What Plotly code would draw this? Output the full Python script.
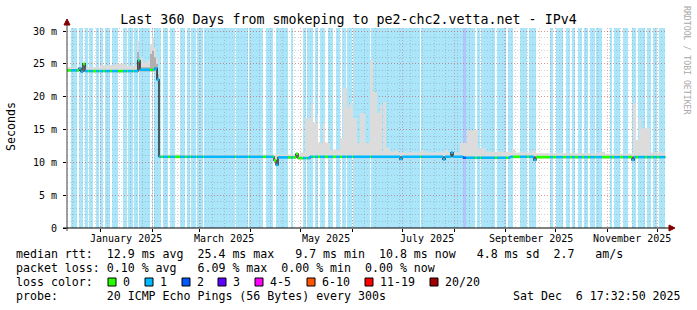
import pandas as pd
import plotly.graph_objects as go

MONO = "DejaVu Sans Mono"

T_START = pd.Timestamp("2024-12-11 17:32:50")
T_END = pd.Timestamp("2025-12-06 17:32:50")
DATA_END = 359.0  # days after start where data stops

# median rtt (step data): days since start, milliseconds
MEDIAN_DAY = [0.0, 7.2, 8.4, 9.6, 10.8, 42.6, 43.8, 52.8, 54.0, 55.2, 124.2, 125.4, 126.6,
              137.4, 138.6, 145.8, 199.8, 201.0, 225.6, 226.8, 230.4, 231.6, 237.6, 265.8,
              280.2, 281.4, 339.0, 340.2]
MEDIAN_MS = [24.0, 24.3, 23.8, 25.0, 23.9, 25.5, 24.1, 24.3, 22.6, 10.85, 10.3, 9.6, 10.75,
             11.3, 10.65, 10.85, 10.5, 10.85, 10.45, 10.85, 11.5, 10.85, 10.7, 10.85,
             10.35, 10.8, 10.35, 10.8]

# smoke upper envelope (step data)
SMOKE_DAY = [0.0, 19.8, 28.8, 34.8, 42.0, 43.2, 44.4, 45.6, 48.0, 49.8, 51.0, 52.2, 53.4, 54.6,
             55.2, 139.8, 142.8, 146.4, 147.6, 150.0, 150.6, 153.6, 154.8, 157.8, 163.8, 165.6,
             168.0, 169.8, 171.6, 174.0, 175.8, 178.8, 181.8, 183.6, 186.0, 187.8, 189.0, 189.6,
             191.4, 193.8, 196.8, 198.6, 211.8, 214.8, 226.8, 228.6, 235.8, 240.0, 246.6, 251.4,
             267.0, 268.8, 279.0, 281.4, 319.8, 322.8, 339.6, 341.4, 343.2, 344.4, 349.8]
SMOKE_HI_MS = [24.5, 24.8, 25.0, 24.7, 28.5, 25.5, 26.0, 25.2, 25.6, 28.0, 29.0, 27.5, 26.0, 23.8,
               11.2, 11.5, 16.7, 19.0, 16.0, 17.2, 13.0, 16.0, 13.0, 11.9, 13.7, 21.3,
               18.3, 19.0, 16.7, 13.0, 17.5, 13.0, 25.6, 20.7, 17.5, 18.7, 11.6, 19.2,
               12.2, 11.6, 11.9, 11.5, 11.8, 11.5, 11.9, 11.5, 13.0, 14.9, 12.1, 11.6,
               12.0, 11.5, 11.8, 11.4, 11.6, 11.3, 19.0, 13.4, 16.7, 15.2, 11.5]

# denser smoke core during the high-latency period
CORE_DAY = [42.0, 43.2, 49.8, 51.0, 52.2, 53.4, 54.6]
CORE_MS = [26.8, 24.5, 26.5, 27.0, 26.0, 25.0, 23.4]
CORE_END = 55.2

# periods with 1/20 packet loss (days since start)
LOSS1_BANDS = [(2.4, 6.0), (7.2, 9.6), (10.8, 12.6), (13.2, 15.6), (17.4, 19.2), (19.8, 21.6),
               (22.8, 25.8), (27.0, 30.6), (33.6, 36.0), (36.6, 39.6), (40.2, 42.6), (43.2, 49.8),
               (51.0, 51.6), (52.2, 56.4), (57.6, 60.6), (61.8, 64.8), (67.8, 70.8), (72.0, 73.8),
               (74.4, 77.4), (78.0, 81.6), (82.2, 100.8), (101.4, 108.6), (109.2, 117.6),
               (119.4, 123.6), (125.4, 132.6), (134.4, 135.6), (141.6, 143.4), (144.0, 147.6),
               (148.8, 150.6), (151.8, 154.8), (156.6, 159.6), (161.4, 163.8), (165.0, 167.4),
               (168.0, 171.0), (171.6, 181.8), (182.4, 211.8), (212.4, 237.6), (239.4, 244.8),
               (246.0, 247.8), (248.4, 256.8), (258.0, 263.4), (264.6, 267.6), (271.8, 276.0),
               (277.2, 281.4), (289.8, 291.6), (293.4, 297.6), (299.4, 301.8), (303.0, 304.8),
               (306.6, 309.0), (310.2, 312.6), (313.8, 316.8), (317.4, 321.0), (325.8, 327.0),
               (328.2, 331.8), (333.6, 336.6), (339.0, 341.4), (342.6, 346.8), (348.0, 350.4),
               (351.6, 354.0), (355.2, 358.8)]
# periods with 2/20 packet loss
LOSS2_BANDS = [(237.6, 239.4)]

X_LABELS = ["January 2025", "March 2025", "May 2025", "July 2025", "September 2025", "November 2025"]
X_LABEL_DATES = ["2025-01-16", "2025-03-16", "2025-05-16", "2025-07-16", "2025-09-16", "2025-11-16"]
Y_TICKS = [0, 5, 10, 15, 20, 25, 30]
Y_TICKTEXT = ["0", "5 m", "10 m", "15 m", "20 m", "25 m", "30 m"]

LOSS_LABELS = ["0", "1", "2", "3", "4-5", "6-10", "11-19", "20/20"]
LOSS_COLORS = ["#26ff00", "#00b8ff", "#0059ff", "#5e00ff", "#ff00ff", "#ff5500", "#ff0000", "#a00000"]
BAND_COLORS = {1: "#aae5fa", 2: "#b3c4fd"}

STATS = dict(med_avg="12.9", med_max="25.4", med_min="9.7", med_now="10.8", sd="4.8", ams="2.7",
             loss_avg="0.10", loss_max="6.09", loss_min="0.00", loss_now="0.00")
TITLE = "Last 360 Days from smokeping to pe2-chc2.vetta.net - IPv4"
PROBE = "20 ICMP Echo Pings (56 Bytes) every 300s"
STAMP = "Sat Dec  6 17:32:50 2025"


def ts(d):
    if d is None:
        return None
    return (T_START + pd.Timedelta(days=d)).strftime("%Y-%m-%d %H:%M:%S")


def med_at(t):
    idx = max(i for i, d in enumerate(MEDIAN_DAY) if d <= t)
    return MEDIAN_MS[idx]


def step_xy(days, vals, end):
    xs, ys = [], []
    for i, (d, v) in enumerate(zip(days, vals)):
        nxt = days[i + 1] if i + 1 < len(days) else end
        xs += [d, nxt]
        ys += [v, v]
    return xs, ys


def median_steps(a, b):
    ds = [a] + [d for d in MEDIAN_DAY if a < d < b]
    return ds, [med_at(d) for d in ds]


def loss_class(t):
    for a, b in LOSS2_BANDS:
        if a <= t < b:
            return 2
    for a, b in LOSS1_BANDS:
        if a <= t < b:
            return 1
    return 0


fig = go.Figure()

# loss background bands
for cls, bands in ((1, LOSS1_BANDS), (2, LOSS2_BANDS)):
    for a, b in bands:
        fig.add_shape(type="rect", xref="x", yref="paper", x0=ts(a), x1=ts(b), y0=0, y1=1,
                      fillcolor=BAND_COLORS[cls], line_width=0, layer="below")

# smoke
def smoke_polygon(hd, hv, end, a):
    hx, hy = step_xy(hd, hv, end)
    ld, lv = median_steps(a, end)
    lx, ly = step_xy(ld, [v - 0.25 for v in lv], end)
    return hx + lx[::-1], hy + ly[::-1]

sx, sy = smoke_polygon(SMOKE_DAY, SMOKE_HI_MS, DATA_END, 0.0)
fig.add_trace(go.Scatter(x=[ts(v) for v in sx], y=sy, fill="toself", fillcolor="#dcdcdc",
                         line=dict(width=0), mode="lines", hoverinfo="skip"))
cx, cy = smoke_polygon(CORE_DAY, CORE_MS, CORE_END, CORE_DAY[0])
fig.add_trace(go.Scatter(x=[ts(v) for v in cx], y=cy, fill="toself", fillcolor="#b0b0b0",
                         line=dict(width=0), mode="lines", hoverinfo="skip"))

# black median step line
mx, my = step_xy(MEDIAN_DAY, MEDIAN_MS, DATA_END)
fig.add_trace(go.Scatter(x=[ts(v) for v in mx], y=my, mode="lines",
                         line=dict(color="black", width=1.2), hoverinfo="skip"))

# colored median segments by loss
edges = set(MEDIAN_DAY) | {0.0, DATA_END}
for bands in (LOSS1_BANDS, LOSS2_BANDS):
    for a, b in bands:
        edges |= {a, b}
edges = sorted(e for e in edges if 0.0 <= e <= DATA_END)
segs = []
for a, b in zip(edges[:-1], edges[1:]):
    c, v = loss_class((a + b) / 2), med_at(a)
    if segs and segs[-1][2] == c and segs[-1][3] == v:
        segs[-1][1] = b
    else:
        segs.append([a, b, c, v])
for cls in (0, 1, 2):
    xs, ys = [], []
    for a, b, c, v in segs:
        if c == cls:
            xs += [ts(a), ts(b), None]
            ys += [v, v, None]
    fig.add_trace(go.Scatter(x=xs, y=ys, mode="lines", line=dict(color=LOSS_COLORS[cls], width=2.6),
                             hoverinfo="skip", connectgaps=False))

W, H = 697, 310
L, R, T, B = 67, 30, 28, 82
PW, PH = W - L - R, H - T - B

def px(x):
    return (x - L) / PW

def py(y):
    return (T + PH - y) / PH

GRID = "rgba(120,120,120,0.33)"
MGRID = "rgba(225,70,70,0.42)"

month_starts = [d.strftime("%Y-%m-%d") for d in pd.date_range("2025-01-01", "2025-12-01", freq="MS")]
week_starts = [d.strftime("%Y-%m-%d") for d in pd.date_range("2024-12-15", T_END, freq="7D")]

fig.update_layout(
    width=W, height=H, margin=dict(l=L, r=R, t=T, b=B),
    paper_bgcolor="white", plot_bgcolor="white", showlegend=False,
    font=dict(family=MONO, color="black"),
    title=dict(text=TITLE, x=0.5, xref="container", xanchor="center", y=1 - 19 / H,
               yanchor="middle", font=dict(family=MONO, size=13.3, color="black")),
    xaxis=dict(type="date", range=[ts(0), ts(360)], tickvals=month_starts, showticklabels=False,
               showgrid=True, gridcolor=MGRID, griddash="1px,2px", gridwidth=1,
               ticks="outside", ticklen=3, tickcolor="black", showline=False, zeroline=False,
               minor=dict(tickvals=week_starts, showgrid=True, gridcolor=GRID,
                          griddash="1px,2px", gridwidth=1, ticks="")),
    yaxis=dict(range=[0, 30.46], tickvals=Y_TICKS, ticktext=Y_TICKTEXT, showgrid=True,
               gridcolor=MGRID, griddash="1px,2px", gridwidth=1, ticks="outside", ticklen=3,
               tickcolor="black", ticklabelstandoff=4, zeroline=False, showline=False,
               tickfont=dict(family=MONO, size=10, color="black"),
               minor=dict(dtick=1, showgrid=True, gridcolor=GRID, griddash="1px,2px",
                          gridwidth=1, ticks="")),
)

# axis lines and arrows
ARROW = "#800000"
fig.add_shape(type="line", xref="paper", yref="paper", x0=0, x1=0, y0=py(231), y1=py(24),
              line=dict(color="#404040", width=1), layer="above")
fig.add_shape(type="line", xref="paper", yref="paper", x0=px(63), x1=px(669), y0=0, y1=0,
              line=dict(color="black", width=1), layer="above")
fig.add_shape(type="path", xref="paper", yref="paper",
              path=f"M {px(67)},{py(19)} L {px(64)},{py(25)} L {px(70)},{py(25)} Z",
              fillcolor=ARROW, line=dict(color=ARROW, width=1), layer="above")
fig.add_shape(type="path", xref="paper", yref="paper",
              path=f"M {px(675)},{py(228)} L {px(669)},{py(225)} L {px(669)},{py(231)} Z",
              fillcolor=ARROW, line=dict(color=ARROW, width=1), layer="above")

# x tick labels (centred within the month)
for lab, d in zip(X_LABELS, X_LABEL_DATES):
    fig.add_annotation(x=d, y=py(238), xref="x", yref="paper", text=lab, showarrow=False,
                       xanchor="center", yanchor="middle", font=dict(family=MONO, size=10, color="black"))

# axis titles / watermark
fig.add_annotation(x=px(11), y=py(127), xref="paper", yref="paper", text="Seconds", textangle=-90,
                   showarrow=False, xanchor="center", yanchor="middle",
                   font=dict(family=MONO, size=11.6, color="black"))
fig.add_annotation(x=px(687), y=py(60), xref="paper", yref="paper", text="RRDTOOL / TOBI OETIKER",
                   textangle=90, showarrow=False, xanchor="center", yanchor="middle",
                   font=dict(family=MONO, size=8.2, color="#a8a8a8"))

LEG = dict(family=MONO, size=11.6, color="black")
line1 = (f"median rtt:  {STATS['med_avg']} ms avg  {STATS['med_max']} ms max   {STATS['med_min']} ms min"
         f"  {STATS['med_now']} ms now   {STATS['sd']} ms sd  {STATS['ams']}   am/s")
line2 = (f"packet loss: {STATS['loss_avg']} % avg   {STATS['loss_max']} % max  {STATS['loss_min']} % min"
         f"  {STATS['loss_now']} % now")
line4 = f"probe:       {PROBE}"
for text, yy in ((line1, 254), (line2, 268), ("loss color:", 282), (line4, 296)):
    fig.add_annotation(x=px(14), y=py(yy), xref="paper", yref="paper", text=text, showarrow=False,
                       xanchor="left", yanchor="middle", font=LEG)
fig.add_annotation(x=px(683), y=py(296), xref="paper", yref="paper", text=STAMP, showarrow=False,
                   xanchor="right", yanchor="middle", font=LEG)

LABEL_X = [123, 160, 197, 233, 270, 322, 380, 445]
for lab, col, lx in zip(LOSS_LABELS, LOSS_COLORS, LABEL_X):
    fig.add_shape(type="rect", xref="paper", yref="paper", x0=px(lx - 15), x1=px(lx - 7),
                  y0=py(286), y1=py(278), fillcolor=col, line=dict(color="black", width=1), layer="above")
    fig.add_annotation(x=px(lx - 2), y=py(282), xref="paper", yref="paper", text=lab, showarrow=False,
                       xanchor="left", yanchor="middle", font=LEG)

fig.write_html("out.html")
